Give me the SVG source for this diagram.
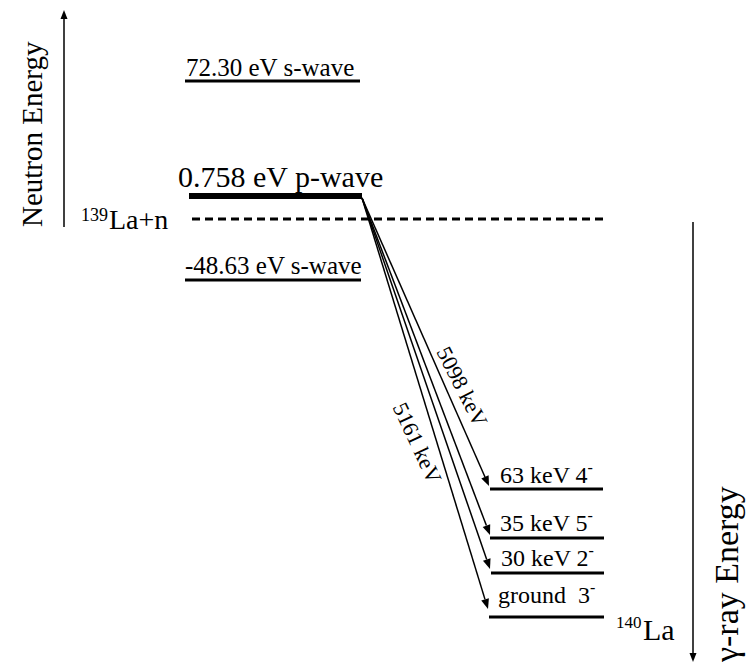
<svg xmlns="http://www.w3.org/2000/svg" width="747" height="668" viewBox="0 0 747 668">
<style>
.lvl{stroke:#000;stroke-width:3;fill:none}
.ax{stroke:#000;stroke-width:1.5;fill:none}
.tr{stroke:#000;stroke-width:1.5;fill:none}
</style>
<rect width="747" height="668" fill="#fff"/>
<g id="neutron-axis">
<line class="ax" x1="64" y1="227" x2="64" y2="18"/>
<polygon points="64,10 60.5,19 67.5,19" fill="#000"/>
<text x="42" y="227" font-size="29" font-family="Liberation Serif, serif" transform="rotate(-90 42 227)">Neutron Energy</text>
</g>
<g id="level-72">
<text x="186" y="76" font-size="25" font-family="Liberation Serif, serif">72.30 eV s-wave</text>
<line class="lvl" x1="185" y1="81" x2="360" y2="81"/>
</g>
<g id="level-0758">
<text x="178" y="187" font-size="30" font-family="Liberation Serif, serif">0.758 eV p-wave</text>
<line x1="189" y1="196" x2="362" y2="196" stroke="#000" stroke-width="6"/>
</g>
<g id="threshold">
<line x1="192" y1="219" x2="607" y2="219" stroke="#000" stroke-width="3" stroke-dasharray="8 5"/>
<text x="81" y="221" font-size="18" font-family="Liberation Serif, serif">139</text>
<text x="109" y="229" font-size="28" font-family="Liberation Serif, serif">La+n</text>
</g>
<g id="level-48">
<text x="185" y="274" font-size="25" font-family="Liberation Serif, serif">-48.63 eV s-wave</text>
<line class="lvl" x1="185" y1="280" x2="361" y2="280"/>
</g>
<g id="level-63">
<text x="500" y="483" font-size="24" font-family="Liberation Serif, serif">63 keV 4<tspan font-size="16" dy="-10">-</tspan></text>
<line class="lvl" x1="490" y1="489" x2="603" y2="489"/>
</g>
<g id="level-35">
<text x="500" y="531" font-size="24" font-family="Liberation Serif, serif">35 keV 5<tspan font-size="16" dy="-10">-</tspan></text>
<line class="lvl" x1="490" y1="538" x2="604" y2="538"/>
</g>
<g id="level-30">
<text x="501" y="566" font-size="24" font-family="Liberation Serif, serif">30 keV 2<tspan font-size="16" dy="-10">-</tspan></text>
<line class="lvl" x1="491" y1="573" x2="604" y2="573"/>
</g>
<g id="level-ground">
<text x="498" y="603" font-size="24" font-family="Liberation Serif, serif">ground&#160; 3<tspan font-size="16" dy="-10">-</tspan></text>
<line class="lvl" x1="489" y1="617" x2="604" y2="617"/>
</g>
<g id="la140">
<text x="616" y="628" font-size="17" font-family="Liberation Serif, serif">140</text>
<text x="643" y="640" font-size="30" font-family="Liberation Serif, serif">La</text>
</g>
<g id="gamma-axis">
<line class="ax" x1="693" y1="222" x2="693" y2="654"/>
<polygon points="693,662 689.5,653 696.5,653" fill="#000"/>
<text x="738" y="662" font-size="34" font-family="Liberation Serif, serif" transform="rotate(-90 738 662)">γ-ray Energy</text>
</g>
<g id="connectors">
<line class="tr" x1="362" y1="198" x2="485" y2="477"/>
<polygon points="489,486 481.31,478.46 488.63,475.24" fill="#000"/>
<line class="tr" x1="362" y1="198" x2="486.4" y2="525.6"/>
<polygon points="490,535 482.71,527.07 490.19,524.23" fill="#000"/>
<line class="tr" x1="362" y1="198" x2="486.7" y2="559.5"/>
<polygon points="490,569 482.96,560.85 490.52,558.25" fill="#000"/>
<line class="tr" x1="362" y1="198" x2="485" y2="599.4"/>
<polygon points="488,609 481.25,600.61 488.89,598.27" fill="#000"/>
<text x="455.5" y="390" font-size="22" font-family="Liberation Serif, serif" text-anchor="middle" transform="rotate(63 455.5 390)">5098 keV</text>
<text x="410.5" y="446" font-size="22" font-family="Liberation Serif, serif" text-anchor="middle" transform="rotate(65 410.5 446)">5161 keV</text>
</g>
</svg>
